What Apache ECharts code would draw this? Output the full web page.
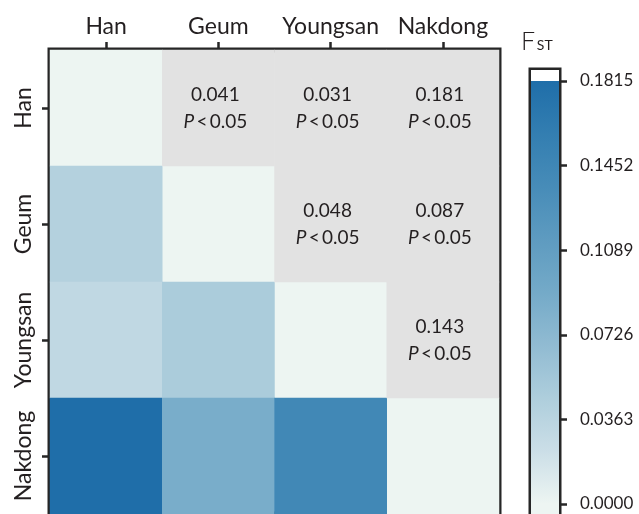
<!DOCTYPE html>
<html><head><meta charset="utf-8">
<script src="https://cdn.jsdelivr.net/npm/echarts@6/dist/echarts.min.js"></script>
<style>html,body{margin:0;padding:0;background:#fff}#c{width:639px;height:514px}</style>
</head><body><div id="c"></div>
<script>
// ---- data ----
const populations = ['Han', 'Geum', 'Youngsan', 'Nakdong'];
const pairA = ['Han', 'Han', 'Han', 'Geum', 'Geum', 'Youngsan'];
const pairB = ['Geum', 'Youngsan', 'Nakdong', 'Youngsan', 'Nakdong', 'Nakdong'];
const pairFst = [0.041, 0.031, 0.181, 0.048, 0.087, 0.143];
const pairP = ['P < 0.05', 'P < 0.05', 'P < 0.05', 'P < 0.05', 'P < 0.05', 'P < 0.05'];
const fstMax = 0.1815;
const colorbarTicks = [0, 0.0363, 0.0726, 0.1089, 0.1452, 0.1815];
const palette = ['#edf5f2', '#cbdee7', '#aecedc', '#91bbd2', '#74aac8', '#5e9bc0', '#478cb8', '#337eb1', '#1f6ea9'];

// ---- build ----
const idx = n => populations.indexOf(n);
const lower = populations.map((p, i) => [i, i, 0]);
const upper = [];
pairA.forEach((a, k) => {
  lower.push([idx(a), idx(pairB[k]), pairFst[k]]);
  upper.push({ value: [idx(pairB[k]), idx(a), pairFst[k]], p: pairP[k] });
});

const txt = '#231f20';
const font = 'Lato';
const axMin = -0.00429, axMax = 0.18622;
const chart = echarts.init(document.getElementById('c'));
const stops = palette.map((c, i) => ({ offset: 1 - i / (palette.length - 1), color: c })).reverse();

chart.setOption({
  animation: false,
  textStyle: { fontFamily: font, color: txt },
  grid: [
    { left: 50, top: 50, width: 449, height: 467, show: true, borderColor: '#262626', borderWidth: 5, backgroundColor: 'transparent' },
    { left: 531, top: 70, width: 28, bottom: 0, show: true, borderColor: '#262626', borderWidth: 5, backgroundColor: '#fff' }
  ],
  xAxis: [
    { type: 'category', data: populations, position: 'top', gridIndex: 0,
      axisLine: { show: false }, splitLine: { show: false },
      axisTick: { show: true, interval: 0, alignWithLabel: true, length: 8, lineStyle: { color: '#262626', width: 2.5 } },
      axisLabel: { interval: 0, fontSize: 23, color: txt, margin: 12, fontFamily: font } },
    { type: 'category', data: ['FST'], gridIndex: 1, show: false }
  ],
  yAxis: [
    { type: 'category', data: populations, inverse: true, gridIndex: 0,
      axisLine: { show: false }, splitLine: { show: false },
      axisTick: { show: true, interval: 0, alignWithLabel: true, length: 8, lineStyle: { color: '#262626', width: 2.5 } },
      axisLabel: { interval: 0, fontSize: 23, color: txt, margin: 15, rotate: 90, fontFamily: font } },
    { type: 'value', gridIndex: 1, position: 'right', min: axMin, max: axMax,
      splitLine: { show: false }, axisLine: { show: false },
      axisTick: { show: true, length: 8, customValues: colorbarTicks, lineStyle: { color: '#262626', width: 2.5 } },
      axisLabel: { customValues: colorbarTicks, fontSize: 17, color: txt, margin: 21, fontFamily: font,
        formatter: v => v.toFixed(4) } }
  ],
  visualMap: [
    { type: 'continuous', show: false, seriesIndex: 0, dimension: 2, min: 0, max: fstMax, inRange: { color: palette } },
    { type: 'continuous', show: false, seriesIndex: 1, dimension: 2, min: 0, max: 1, inRange: { color: ['#e2e2e2', '#e2e2e2'] } }
  ],
  series: [
    { type: 'heatmap', xAxisIndex: 0, yAxisIndex: 0, data: lower, silent: true, emphasis: { disabled: true } },
    { type: 'heatmap', xAxisIndex: 0, yAxisIndex: 0, data: upper, silent: true, emphasis: { disabled: true },
      label: { show: true, fontFamily: font, color: txt, lineHeight: 27, offset: [-3, 0],
        formatter: p => '{v|' + p.value[2].toFixed(3) + '}\n{i|P}{n|\u2009<\u2009' + p.data.p.split('<')[1].trim() + '}',
        rich: {
          v: { fontSize: 19, fontFamily: font, color: txt, lineHeight: 27 },
          i: { fontSize: 19, fontFamily: font, color: txt, fontStyle: 'italic', lineHeight: 27 },
          n: { fontSize: 19, fontFamily: font, color: txt, lineHeight: 27 }
        } } },
    { type: 'bar', xAxisIndex: 1, yAxisIndex: 1, data: [axMax], barWidth: '100%', barGap: '-100%', silent: true,
      itemStyle: { color: '#fff' } },
    { type: 'bar', xAxisIndex: 1, yAxisIndex: 1, data: [fstMax], barWidth: '100%', barGap: '-100%', silent: true,
      itemStyle: { color: new echarts.graphic.LinearGradient(0, 0, 0, 1, stops) } },
    { type: 'bar', xAxisIndex: 1, yAxisIndex: 1, data: [axMin], barWidth: '100%', barGap: '-100%', silent: true,
      itemStyle: { color: palette[0] } }
  ],
  graphic: [
    { type: 'text', left: 521, top: 29, silent: true,
      style: { text: '{f|F}{s|\u2009ST}', rich: {
        f: { fontSize: 25, fontFamily: font, fill: txt, verticalAlign: 'bottom', lineHeight: 28, fontWeight: 300 },
        s: { fontSize: 14, fontFamily: font, fill: txt, verticalAlign: 'bottom', lineHeight: 22, padding: [0, 0, 2, 0] } } } }
  ]
});
</script>
</body></html>
